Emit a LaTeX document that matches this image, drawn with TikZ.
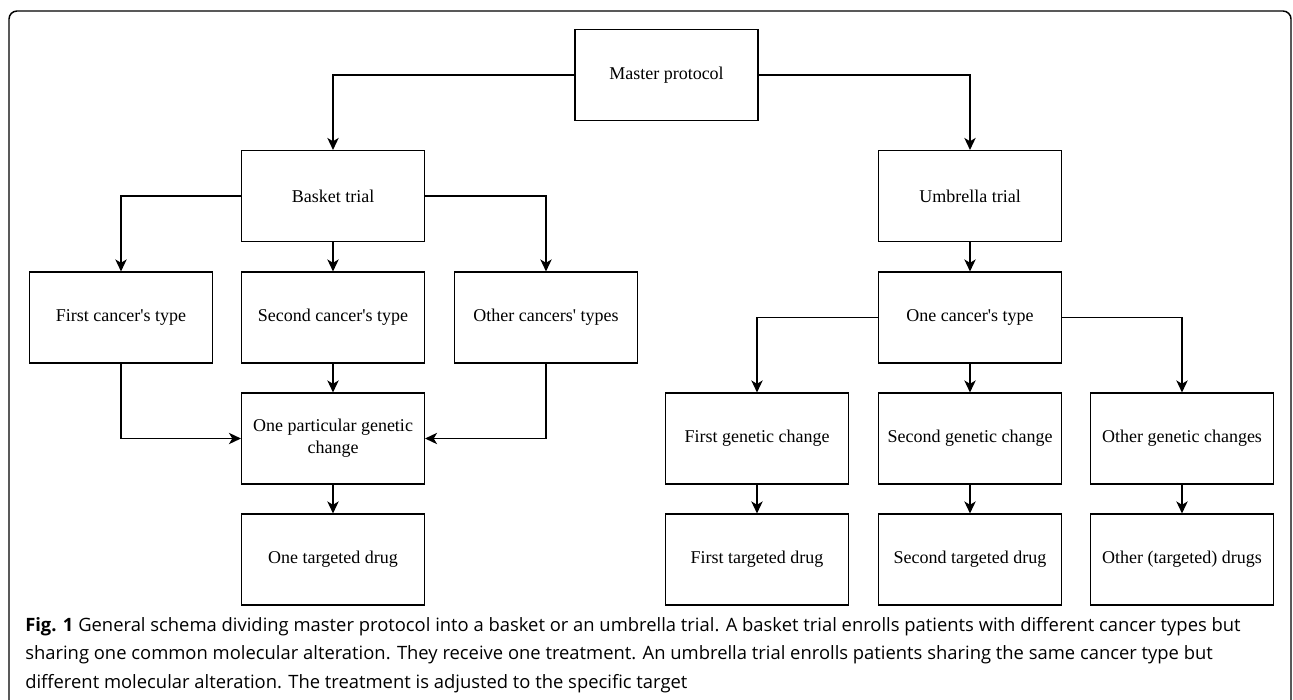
\documentclass[tikz,border=0pt]{standalone}
\usepackage{fontspec}
\setmainfont{Liberation Serif}[Ligatures=TeXOff]
\newfontfamily\capfont{Open Sans}
\usetikzlibrary{arrows.meta}

\begin{document}
\begin{tikzpicture}[x=0.75pt,y=0.75pt,yscale=-1,xscale=1,
  box/.style={draw, line width=1.1pt, minimum width=137pt, minimum height=68pt, inner sep=0.75pt, align=center, font=\fontsize{13.5}{16.5}\selectfont},
  arr/.style={line width=1.1pt, -{Stealth[length=9pt,width=8.5pt,inset=2.5pt]}}]
%set diagram left start at 0, and has height of 700
\useasboundingbox (0,0) rectangle (1293,700);

%Rounded Rect [outer frame]
\draw [line width=1.1pt, rounded corners=6pt] (9,700) -- (9,11) -- (1291,11) -- (1291,700) ;

% Text Node
\node [box] (master) at (666.5,75) {Master protocol};
% Text Node
\node [box] (basket) at (333,196) {Basket trial};
% Text Node
\node [box] (umbrella) at (970,196) {Umbrella trial};

% Text Node
\node [box] (cancerA) at (121,317.5) {First cancer's type};
% Text Node
\node [box] (cancerB) at (333,317.5) {Second cancer's type};
% Text Node
\node [box] (cancerC) at (546,317.5) {Other cancers' types};
% Text Node
\node [box] (gene) at (333,438.5) {One particular genetic\\change};
% Text Node
\node [box] (drug) at (333,559.5) {One targeted drug};

% Text Node
\node [box] (onetype) at (970,317.5) {One cancer's type};
% Text Node
\node [box] (geneA) at (757,438.5) {First genetic change};
% Text Node
\node [box] (geneB) at (970,438.5) {Second genetic change};
% Text Node
\node [box] (geneC) at (1182,438.5) {Other genetic changes};
% Text Node
\node [box] (drugA) at (757,559.5) {First targeted drug};
% Text Node
\node [box] (drugB) at (970,559.5) {Second targeted drug};
% Text Node
\node [box] (drugC) at (1182,559.5) {Other (targeted) drugs};

%Connectors
\draw [arr] (master.west) -| (basket.north) ;
\draw [arr] (master.east) -| (umbrella.north) ;
\draw [arr] (basket.west) -| (cancerA.north) ;
\draw [arr] (basket.south) -- (cancerB.north) ;
\draw [arr] (basket.east) -| (cancerC.north) ;
\draw [arr] (cancerA.south) |- (gene.west) ;
\draw [arr] (cancerB.south) -- (gene.north) ;
\draw [arr] (cancerC.south) |- (gene.east) ;
\draw [arr] (gene.south) -- (drug.north) ;
\draw [arr] (umbrella.south) -- (onetype.north) ;
\draw [arr] (onetype.west) -| (geneA.north) ;
\draw [arr] (onetype.south) -- (geneB.north) ;
\draw [arr] (onetype.east) -| (geneC.north) ;
\draw [arr] (geneA.south) -- (drugA.north) ;
\draw [arr] (geneB.south) -- (drugB.north) ;
\draw [arr] (geneC.south) -- (drugC.north) ;

% Text Node [caption]
\node [anchor=north west, inner sep=0pt, align=left, font=\capfont\fontsize{13.8}{21.3}\selectfont] (caption) at (25,617) {\textbf{Fig. 1} General schema dividing master protocol into a basket or an umbrella trial. A basket trial enrolls patients with different cancer types but\\sharing one common molecular alteration. They receive one treatment. An umbrella trial enrolls patients sharing the same cancer type but\\different molecular alteration. The treatment is adjusted to the specific target};

\end{tikzpicture}
\end{document}
